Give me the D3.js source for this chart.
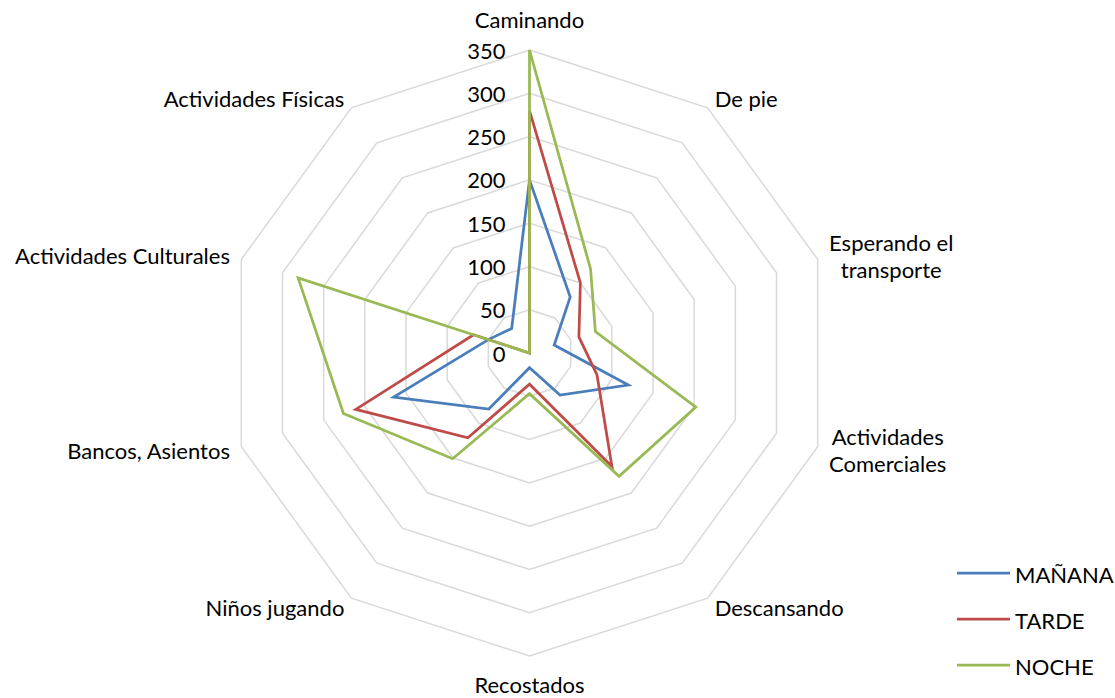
<!DOCTYPE html>
<html>
<head>
<meta charset="utf-8">
<script src="https://cdn.jsdelivr.net/npm/d3@7"></script>
<style>
  body { margin: 0; background: #fff; }
  svg { display: block; }
  text { font-family: Lato, "Open Sans", sans-serif; fill: #000; }
</style>
</head>
<body>
<svg></svg>
<script>
// categories, clockwise from the top
const categories = ["Caminando", "De pie", "Esperando el transporte", "Actividades Comerciales",
  "Descansando", "Recostados", "Niños jugando", "Bancos, Asientos",
  "Actividades Culturales", "Actividades Físicas"]
// label line breaks (as in the original)
const labelLines = [["Caminando"], ["De pie"], ["Esperando el", "transporte"], ["Actividades", "Comerciales"],
  ["Descansando"], ["Recostados"], ["Niños jugando"], ["Bancos, Asientos"],
  ["Actividades Culturales"], ["Actividades Físicas"]]

const seriesNames = ["MAÑANA", "TARDE", "NOCHE"]
const manana = [200, 80, 30, 120, 60, 17, 80, 165, 50, 35]
const tarde  = [280, 100, 60, 82, 162, 36, 121, 211, 68, 0]
const noche  = [350, 120, 80, 202, 176, 47, 151, 226, 281, 0]
const ticks = [0, 50, 100, 150, 200, 250, 300, 350]

const colors = ["#4a7ebb", "#be4b48", "#98b954"]

const width = 1115, height = 698
const cx = 529.5, cy = 353

const svg = d3.select("svg").attr("width", width).attr("height", height)

const r = d3.scaleLinear().domain([0, 350]).range([0, 303])
// scalePoint over the full circle: step = 2PI / n
const angle = d3.scalePoint().domain(categories)
  .range([0, 2 * Math.PI * (categories.length - 1) / categories.length])

const g = svg.append("g").attr("transform", `translate(${cx},${cy})`)

const radial = d3.lineRadial()
  .angle((d, i) => angle(categories[i]))
  .radius(d => r(d))
  .curve(d3.curveLinearClosed)

// grid rings
g.append("g").attr("class", "grid")
  .selectAll("path")
  .data(ticks.filter(t => t > 0))
  .enter().append("path")
    .attr("d", t => radial(categories.map(() => t)))
    .attr("fill", "none")
    .attr("stroke", "#d9d9d9")
    .attr("stroke-width", 1.5)

// tick labels
g.append("g").attr("class", "ticks")
  .selectAll("text")
  .data(ticks)
  .enter().append("text")
    .attr("x", -24)
    .attr("y", t => -r(t))
    .attr("text-anchor", "end")
    .attr("dominant-baseline", "central")
    .attr("font-size", 22)
    .text(t => t)

// series
const allSeries = [manana, tarde, noche]
g.append("g").attr("class", "series")
  .selectAll("path")
  .data(allSeries)
  .enter().append("path")
    .attr("d", d => radial(d))
    .attr("fill", "none")
    .attr("stroke", (d, i) => colors[i])
    .attr("stroke-width", 2.75)
    .attr("stroke-linejoin", "miter")

// category labels
const R = r(350) + 12
const labels = g.append("g").attr("class", "labels")
categories.forEach((c, i) => {
  const a = angle(c)
  const s = Math.sin(a), co = Math.cos(a)
  const lines = labelLines[i]
  const t = labels.append("text").attr("font-size", 22)
  if (Math.abs(s) < 0.1) {
    // top label a bit higher, bottom one kept inside the frame
    const y = co > 0 ? -(R + 19) : R + 16
    t.attr("text-anchor", "middle").attr("x", 0).attr("y", y).attr("dominant-baseline", "central").text(lines[0])
  } else {
    const x = s * R, y = -co * R
    const lh = 27
    const y0 = y - (lines.length - 1) * lh / 2
    const tspans = lines.map((ln, k) => t.append("tspan")
      .attr("y", y0 + k * lh).attr("dominant-baseline", "central").text(ln))
    // widest line sets block width; lines centred inside block
    const w = d3.max(tspans, ts => ts.node().getComputedTextLength())
    const mid = s > 0 ? x + w / 2 : x - w / 2
    t.attr("text-anchor", "middle")
    tspans.forEach(ts => ts.attr("x", mid))
  }
})

// legend
const legend = svg.append("g").attr("class", "legend")
  .selectAll("g")
  .data(seriesNames)
  .enter().append("g")
    .attr("transform", (d, i) => `translate(957,${573 + i * 46})`)
legend.append("line")
  .attr("x1", 0).attr("x2", 53)
  .attr("stroke", (d, i) => colors[i])
  .attr("stroke-width", 2.75)
legend.append("text")
  .attr("x", 58).attr("y", 1)
  .attr("dominant-baseline", "central")
  .attr("font-size", 22)
  .text(d => d)
</script>
</body>
</html>
